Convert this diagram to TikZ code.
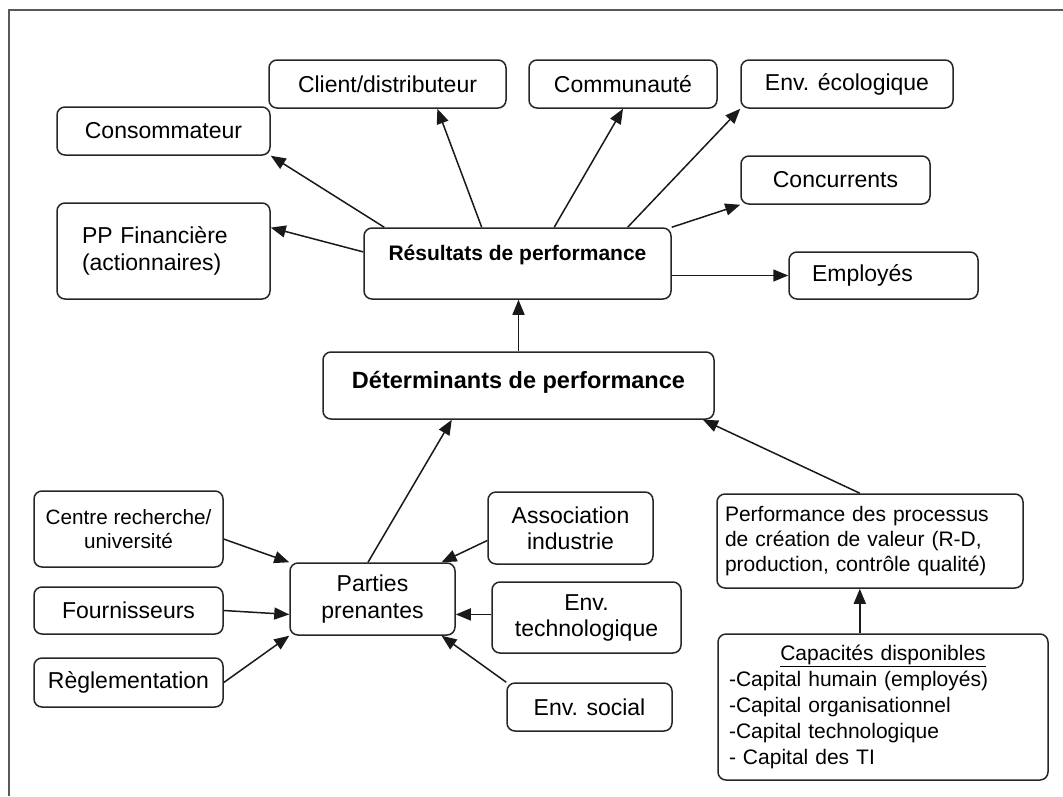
\documentclass[tikz,border=0pt]{standalone}
\usepackage{fontspec}
\setmainfont{Liberation Sans}
\usetikzlibrary{arrows.meta,calc}
\begin{document}
\begin{tikzpicture}[x=1pt,y=-1pt,
  box/.style={draw=black!85, line width=1.5pt, rounded corners=8pt, inner sep=0pt,
              align=center, font=\fontsize{23}{27}\selectfont},
  conn/.style={draw=black!90, line width=1.5pt, -{Triangle[length=15pt,width=12pt]}},
  frameline/.style={line width=1.6pt}]
\useasboundingbox (0,0) rectangle (1063,796);

% outer frame (top and left edges)
\draw[frameline, black!65] (9,796) -- (9,10) -- (1063,10);

% stakeholders receiving the results
\node[box, minimum width=213pt, minimum height=48pt] (cons) at (163.5,131) {Consommateur};
\node[box, minimum width=213pt, minimum height=96pt, text width=163pt, align=left] (pp) at (163.5,251)
  {PP Financière\\(actionnaires)};
\node[box, minimum width=237pt, minimum height=48pt] (client) at (387.5,84) {Client/distributeur};
\node[box, minimum width=188pt, minimum height=48pt] (comm) at (623,84) {Communauté};
\node[box, minimum width=212pt, minimum height=48pt] (eco) at (847,84) {Env. écologique};
\node[box, minimum width=189pt, minimum height=48pt] (conc) at (835.5,180) {Concurrents};
\node[box, minimum width=189pt, minimum height=47pt, text width=143pt, align=left] (emp) at (883.5,275.5) {Employés};

% central chain
\node[box, minimum width=307pt, minimum height=71pt, font=\bfseries\fontsize{21}{25}\selectfont,
      text height=15pt, text depth=21pt] (res) at (517.5,263.5) {Résultats de performance};
\node[box, minimum width=391pt, minimum height=67pt, font=\bfseries\fontsize{23.5}{28}\selectfont,
      text height=18pt, text depth=12pt] (det) at (518.5,385.5) {Déterminants de performance};

% stakeholders feeding the determinants
\node[box, minimum width=189pt, minimum height=76pt, font=\fontsize{20.7}{24}\selectfont] (centre) at (128.5,529)
  {Centre recherche/\\université};
\node[box, minimum width=189pt, minimum height=47pt] (four) at (128.5,610.5) {Fournisseurs};
\node[box, minimum width=189pt, minimum height=49pt] (regl) at (128.5,682.5) {Règlementation};
\node[box, minimum width=165pt, minimum height=72pt] (parties) at (372.5,599) {Parties\\prenantes};
\node[box, minimum width=165pt, minimum height=72pt, font=\fontsize{23}{26}\selectfont] (assoc) at (570.5,528)
  {Association\\industrie};
\node[box, minimum width=189pt, minimum height=71pt, font=\fontsize{23}{26}\selectfont] (tech) at (586.5,617.5)
  {Env.\\technologique};
\node[box, minimum width=165pt, minimum height=48pt] (social) at (589.5,707) {Env. social};

% value creation side
\node[box, minimum width=306pt, minimum height=94pt, text width=290pt, align=left,
      font=\fontsize{21}{25}\selectfont] (perf) at (870,541)
  {Performance des processus\\de création de valeur (R-D,\\production, contrôle qualité)};
\node[box, minimum width=330pt, minimum height=146pt, text width=308pt, align=left,
      font=\fontsize{21}{26}\selectfont] (cap) at (883,707)
  {\makebox[\linewidth][c]{\underline{Capacités disponibles}}\\
   -Capital humain (employés)\\
   -Capital organisationnel\\
   -Capital technologique\\
   - Capital des TI};

% results towards stakeholders
\draw[conn] ($(res.north west)!0.068!(res.north east)$) -- (cons.south east);
\draw[conn] ($(res.north west)!0.34!(res.south west)$) -- ($(pp.north east)!0.26!(pp.south east)$);
\draw[conn] ($(res.north west)!0.384!(res.north east)$) -- ($(client.south west)!0.709!(client.south east)$);
\draw[conn] ($(res.north west)!0.619!(res.north east)$) -- (comm.south);
\draw[conn] ($(res.north west)!0.857!(res.north east)$) -- (eco.south west);
\draw[conn] (res.north east) -- (conc.south west);
\draw[conn] (emp.west -| res.east) -- (emp.west);

% determinants to results
\draw[conn] (det.north) -- (det.north |- res.south);
\draw[conn] ($(parties.north west)!0.473!(parties.north east)$) -- ($(det.south west)!0.33!(det.south east)$);
\draw[conn] ($(perf.north west)!0.467!(perf.north east)$) -- ($(det.south west)!0.97!(det.south east)$);
\coordinate (capup) at ($(cap.north west)!0.43!(cap.north east)$);
\draw[conn] (capup) -- (capup |- perf.south);

% inputs to the stakeholders box
\draw[conn] ($(centre.north east)!0.63!(centre.south east)$) -- (parties.north west);
\draw[conn] (four.east) -- ($(parties.north west)!0.71!(parties.south west)$);
\draw[conn] (regl.east) -- (parties.south west);
\draw[conn] ($(assoc.north west)!0.67!(assoc.south west)$) -- ($(parties.north west)!0.915!(parties.north east)$);
\coordinate (pe) at ($(parties.north east)!0.71!(parties.south east)$);
\draw[conn] (pe -| tech.west) -- (pe);
\draw[conn] (social.north west) -- ($(parties.south west)!0.915!(parties.south east)$);
\end{tikzpicture}
\end{document}
